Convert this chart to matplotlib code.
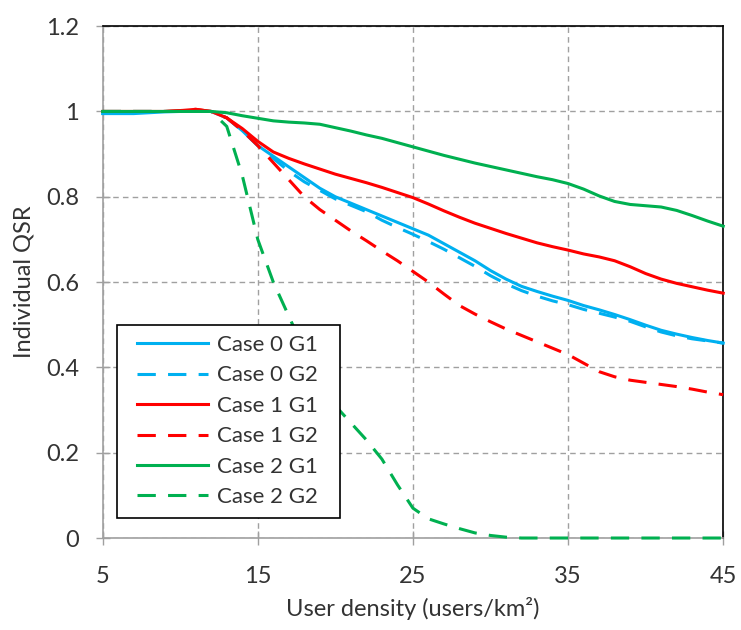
import matplotlib
matplotlib.use('Agg')
import matplotlib.pyplot as plt
from matplotlib.patches import Rectangle

plt.rcParams['font.family'] = ['Lato', 'DejaVu Sans']

x = list(range(5, 46))

case0_g1 = [0.995, 0.995, 0.995, 0.997, 0.999, 1.0, 1.0, 1.0, 0.985, 0.955, 0.92,
            0.895, 0.87, 0.845, 0.82, 0.80, 0.785, 0.77, 0.755, 0.74, 0.725,
            0.71, 0.69, 0.67, 0.65, 0.627, 0.607, 0.59, 0.578, 0.567, 0.557,
            0.545, 0.535, 0.524, 0.512, 0.499, 0.487, 0.478, 0.47, 0.463, 0.457]
case0_g2 = [1.0, 1.0, 1.0, 1.0, 1.0, 1.0, 1.0, 1.0, 0.985, 0.955, 0.92,
            0.89, 0.86, 0.835, 0.815, 0.795, 0.78, 0.765, 0.745, 0.728, 0.712,
            0.695, 0.677, 0.657, 0.637, 0.615, 0.596, 0.58, 0.567, 0.556, 0.547,
            0.536, 0.527, 0.518, 0.508, 0.495, 0.483, 0.474, 0.467, 0.462, 0.457]
case1_g1 = [1.0, 1.0, 1.0, 1.0, 1.0, 1.002, 1.005, 1.0, 0.985, 0.96, 0.93,
            0.905, 0.89, 0.877, 0.865, 0.853, 0.843, 0.833, 0.822, 0.81, 0.798,
            0.783, 0.767, 0.752, 0.738, 0.726, 0.714, 0.703, 0.692, 0.683, 0.675,
            0.666, 0.659, 0.65, 0.636, 0.62, 0.607, 0.597, 0.589, 0.581, 0.574]
case1_g2 = [1.0, 1.0, 1.0, 1.0, 1.0, 1.002, 1.005, 1.0, 0.985, 0.955, 0.92,
            0.88, 0.84, 0.80, 0.77, 0.745, 0.72, 0.697, 0.673, 0.65, 0.625,
            0.60, 0.572, 0.545, 0.525, 0.507, 0.49, 0.475, 0.46, 0.445, 0.43,
            0.41, 0.39, 0.378, 0.37, 0.365, 0.36, 0.355, 0.349, 0.342, 0.336]
case2_g1 = [1.0, 1.0, 1.0, 1.0, 1.0, 1.0, 1.0, 1.0, 0.997, 0.99, 0.984,
            0.978, 0.975, 0.973, 0.97, 0.962, 0.954, 0.945, 0.937, 0.927, 0.917,
            0.907, 0.897, 0.888, 0.879, 0.871, 0.863, 0.855, 0.847, 0.84, 0.831,
            0.818, 0.802, 0.789, 0.782, 0.779, 0.776, 0.768, 0.756, 0.743, 0.731]
case2_g2 = [1.0, 1.0, 1.0, 1.0, 1.0, 1.0, 1.0, 1.0, 0.965, 0.85, 0.70,
            0.60, 0.52, 0.44, 0.37, 0.31, 0.27, 0.23, 0.185, 0.125, 0.07,
            0.045, 0.033, 0.022, 0.012, 0.006, 0.002, 0.0, 0.0, 0.0, 0.0,
            0.0, 0.0, 0.0, 0.0, 0.0, 0.0, 0.0, 0.0, 0.0, 0.0]

series = [
    ('Case 0 G1', case0_g1, '#00B0F0', '-'),
    ('Case 0 G2', case0_g2, '#00B0F0', '--'),
    ('Case 1 G1', case1_g1, '#FF0000', '-'),
    ('Case 1 G2', case1_g2, '#FF0000', '--'),
    ('Case 2 G1', case2_g1, '#00B050', '-'),
    ('Case 2 G2', case2_g2, '#00B050', '--'),
]

x_ticks = [5, 15, 25, 35, 45]
y_ticks = [0, 0.2, 0.4, 0.6, 0.8, 1.0, 1.2]
y_labels = ['0', '0.2', '0.4', '0.6', '0.8', '1', '1.2']

fig = plt.figure(figsize=(7.41, 6.3), dpi=100)
ax = fig.add_axes([0.1385, 0.146, 0.8375, 0.8125])

for label, vals, color, ls in series:
    line, = ax.plot(x, vals, color=color, linestyle=ls, linewidth=2.2,
                    label=label, clip_on=False, zorder=3)
    if ls == '--':
        line.set_dashes((6, 4))

ax.set_xlim(5, 45)
ax.set_ylim(0, 1.2)
ax.set_xticks(x_ticks)
ax.set_yticks(y_ticks)
ax.set_yticklabels(y_labels)
ax.tick_params(direction='inout', length=10, width=1, color='#A0A0A0',
               labelsize=17, labelcolor='#333333')
ax.tick_params(axis='x', pad=15)
ax.tick_params(axis='y', pad=12)

ax.grid(True, color='#A0A0A0', linestyle=(0, (4, 3)), linewidth=1)
ax.set_axisbelow(True)

ax.spines['left'].set_color('#A0A0A0')
ax.spines['bottom'].set_color('#A0A0A0')
ax.spines['top'].set_color('#000000')
ax.spines['right'].set_color('#000000')
for s in ax.spines.values():
    s.set_linewidth(1.2)

ax.set_xlabel('User density (users/km²)', fontsize=17, color='#333333', labelpad=7)
ax.set_ylabel('Individual QSR', fontsize=17, color='#333333', labelpad=8)

# legend box drawn separately so the side padding can be wider than the top
box = Rectangle((117 / 741, 1 - 518 / 630), 223 / 741, 193 / 630,
                transform=fig.transFigure, facecolor='white', edgecolor='black',
                linewidth=1.2, zorder=4, clip_on=False)
ax.add_patch(box)

leg = ax.legend(loc='upper left', bbox_to_anchor=(137 / 741, 1 - 335 / 630),
                bbox_transform=fig.transFigure, fontsize=16, frameon=False,
                handlelength=3.2, handletextpad=0.4,
                labelspacing=0.47, borderpad=0, borderaxespad=0)
leg.set_zorder(5)
for t in leg.get_texts():
    t.set_color('#333333')

fig.savefig('out.png', dpi=100)
